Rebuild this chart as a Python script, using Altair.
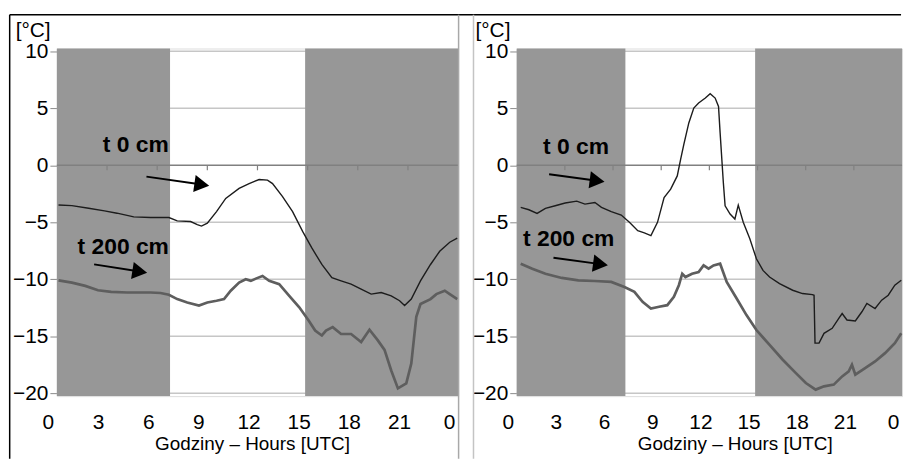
import altair as alt
import pandas as pd

FONT = "Liberation Sans"
Y_MIN, Y_MAX = -20.25, 10.25
HEIGHT = 350
LEFT_W, RIGHT_W = 404, 388

# ---------------- data: left panel ----------------
L_T0_H = [0.1, 0.9, 1.9, 2.85, 3.6, 4.6, 5.6, 6.7, 7.2, 8.0, 8.4, 8.65, 9.0, 9.55, 10.1, 10.9, 11.5, 12.1,
          12.6, 12.9, 13.5, 14.1, 14.7, 15.25, 15.85, 16.45, 17.0, 17.6, 18.2, 18.8, 19.4, 20.0, 20.5, 20.8,
          21.2, 21.75, 22.35, 22.9, 23.5, 23.95]
L_T0_V = [-3.48, -3.54, -3.77, -4.0, -4.2, -4.52, -4.58, -4.58, -4.87, -4.93, -5.2, -5.33, -5.07, -4.06, -2.9,
          -2.03, -1.6, -1.25, -1.3, -1.6, -2.75, -4.06, -5.8, -7.25, -8.7, -9.86, -10.14, -10.43, -10.87, -11.3,
          -11.16, -11.45, -11.88, -12.3, -11.74, -10.14, -8.7, -7.54, -6.75, -6.38]
L_T200_H = [0.1, 0.9, 1.7, 2.46, 3.25, 4.2, 5.6, 6.2, 6.7, 7.2, 7.8, 8.5, 9.0, 9.55, 10.0, 10.4, 10.9, 11.3,
            11.6, 11.9, 12.3, 12.7, 13.3, 13.9, 14.5, 15.05, 15.45, 15.85, 16.1, 16.5, 17.0, 17.6, 18.2, 18.7,
            19.2, 19.6, 20.0, 20.4, 20.9, 21.2, 21.5, 21.75, 22.35, 22.7, 23.2, 23.5, 23.95]
L_T200_V = [-10.09, -10.29, -10.58, -10.96, -11.1, -11.16, -11.16, -11.2, -11.36, -11.74, -12.03, -12.3, -12.03,
            -11.88, -11.74, -11.0, -10.29, -10.0, -10.14, -9.94, -9.71, -10.14, -10.43, -11.45, -12.46, -13.6,
            -14.5, -14.93, -14.5, -14.2, -14.8, -14.8, -15.5, -14.43, -15.36, -16.2, -18.0, -19.57, -19.13, -17.4,
            -13.3, -12.17, -11.74, -11.3, -11.0, -11.3, -11.74]

# ---------------- data: right panel ----------------
R_T0_H = [0.25, 0.76, 1.27, 1.79, 2.4, 3.02, 3.74, 4.25, 4.87, 5.28, 5.89, 6.51, 7.02, 7.54, 7.95, 8.36, 8.77,
          9.18, 9.59, 10.0, 10.21, 10.41, 10.72, 11.03, 11.33, 11.75, 12.05, 12.36, 12.57, 12.67, 12.87, 12.98,
          13.29, 13.59, 13.8, 14.11, 14.52, 14.93, 15.34, 15.75, 16.37, 17.19, 17.8, 18.42, 18.52, 18.58, 18.83,
          19.14, 19.65, 20.06, 20.27, 20.57, 21.09, 21.5, 21.81, 22.32, 22.73, 23.14, 23.55, 23.95]
R_T0_V = [-3.69, -3.9, -4.22, -3.78, -3.55, -3.31, -3.14, -3.4, -3.26, -3.69, -4.07, -4.36, -5.0, -5.73, -5.93,
          -6.16, -5.0, -2.82, -2.09, -0.93, 0.52, 1.83, 3.72, 5.03, 5.47, 5.9, 6.28, 5.9, 5.17, 2.85, -1.51, -3.55,
          -4.27, -4.71, -3.49, -5.0, -6.45, -8.2, -9.22, -9.8, -10.38, -10.96, -11.25, -11.34, -11.4, -15.6, -15.6,
          -14.74, -14.3, -13.43, -13.0, -13.57, -13.66, -12.85, -12.12, -12.56, -11.83, -11.4, -10.52, -10.09]
R_T200_H = [0.25, 0.97, 1.79, 2.81, 3.84, 4.87, 5.89, 6.71, 7.33, 7.84, 8.36, 8.87, 9.38, 9.79, 10.1, 10.31,
            10.51, 10.92, 11.33, 11.64, 11.95, 12.26, 12.67, 13.08, 13.7, 14.31, 14.93, 15.75, 16.57, 17.39, 18.01,
            18.62, 19.14, 19.75, 20.27, 20.68, 20.88, 21.09, 21.7, 22.32, 22.94, 23.55, 23.95]
R_T200_V = [-8.63, -9.07, -9.51, -9.88, -10.09, -10.15, -10.23, -10.67, -11.1, -11.98, -12.56, -12.41, -12.27,
            -11.54, -10.52, -9.51, -9.8, -9.51, -9.36, -8.78, -9.07, -8.78, -8.63, -10.23, -11.69, -13.14, -14.45,
            -15.76, -17.06, -18.23, -19.1, -19.68, -19.39, -19.24, -18.52, -18.08, -17.5, -18.37, -17.79, -17.21,
            -16.48, -15.61, -14.74]

SERIES = ["t 0 cm", "t 200 cm"]
NIGHT_START = [0, 14.85]
NIGHT_END = [6.77, 24]
Y_TICKS = [-20, -15, -10, -5, 0, 5, 10]
GRID_Y = [-20, -15, -10, -5, 5, 10]
X_TICKS = [0, 3, 6, 9, 12, 15, 18, 21, 24]
ZERO_TICKS = [3, 6, 9, 12, 15, 18, 21]
X_TITLE = "Godziny – Hours [UTC]"
Y_TITLE = "[°C]"

# annotation label / arrow anchors (hours, °C)
L_LAB_H, L_LAB_V = [4.72, 3.97], [1.19, -7.79]
L_AR_H, L_AR_V, L_AR_H2, L_AR_V2, L_AR_ANG = [5.36, 2.23], [-0.99, -8.69], [8.67, 4.96], [-1.69, -9.32], [8.2, 9.0]
R_LAB_H, R_LAB_V = [3.7, 3.24], [1.01, -7.09]
R_AR_H, R_AR_V, R_AR_H2, R_AR_V2, R_AR_ANG = [2.02, 2.29], [-0.79, -8.11], [5.01, 5.22], [-1.35, -8.67], [7.5, 7.7]

ONE = alt.Data(values=[{}])


def panel(t0h, t0v, t2h, t2v, lab_h, lab_v, ar_h, ar_v, ar_h2, ar_v2, ar_ang,
          width, title_x, frame_left, frame_right, left_border, divider_x):
    xs = alt.Scale(domain=[0, 24], nice=False, zero=False)
    ys = alt.Scale(domain=[Y_MIN, Y_MAX], nice=False, zero=False)

    grid = alt.Chart(pd.DataFrame({"g": GRID_Y})).mark_rule(color="#c6c6c6", strokeWidth=1.5).encode(
        y=alt.Y("g:Q", scale=ys, axis=alt.Axis(
            values=Y_TICKS, ticks=True, tickSize=7, tickColor="#8a8a8a", tickWidth=1,
            domain=False, grid=False, labelPadding=2, labelFontSize=21, labelFont=FONT,
            labelColor="black", labelFlush=False, labelOverlap=False, title=None)),
        x=alt.value(0), x2=alt.value(width))

    nights = alt.Chart(pd.DataFrame({"s": NIGHT_START, "e": NIGHT_END})).mark_rect(color="#979797").encode(
        x=alt.X("s:Q", scale=xs, axis=alt.Axis(
            values=X_TICKS, labelExpr="datum.value == 24 ? '0' : datum.label",
            labelFlush=False, labelOverlap=False, labelOffset=-9, ticks=False, tickSize=0,
            domain=False, grid=False, labelPadding=16, labelFontSize=21, labelFont=FONT,
            labelColor="black", title=X_TITLE, titleFont=FONT, titleFontSize=19,
            titleFontWeight="normal", titleColor="black", titleX=title_x, titleY=54,
            titleBaseline="alphabetic", titleAlign="center")),
        x2="e:Q",
        y=alt.datum(Y_MAX, scale=ys), y2=alt.datum(Y_MIN))

    zero = alt.Chart(ONE).mark_rule(color="#808080", strokeWidth=1.5).encode(
        y=alt.datum(0, scale=ys), x=alt.value(0), x2=alt.value(width))
    zticks = alt.Chart(pd.DataFrame({"t": ZERO_TICKS})).mark_rule(
        color="#808080", strokeWidth=1.2, y2Offset=5).encode(
        x=alt.X("t:Q", scale=xs), y=alt.datum(0, scale=ys), y2=alt.datum(0))

    df = pd.DataFrame({"h": t0h + t2h, "v": t0v + t2v,
                       "series": [SERIES[0]] * len(t0h) + [SERIES[1]] * len(t2h)})
    lines = alt.Chart(df).mark_line(interpolate="linear").encode(
        x=alt.X("h:Q", scale=xs),
        y=alt.Y("v:Q", scale=ys),
        color=alt.Color("series:N", scale=alt.Scale(domain=SERIES, range=["#1c1c1c", "#5e5e5e"]), legend=None),
        strokeWidth=alt.StrokeWidth("series:N", scale=alt.Scale(domain=SERIES, range=[1.4, 2.7]), legend=None))

    adf = pd.DataFrame({"h": ar_h, "v": ar_v, "h2": ar_h2, "v2": ar_v2, "ang": ar_ang,
                        "lh": lab_h, "lv": lab_v, "lab": SERIES})
    arrows = alt.Chart(adf).mark_rule(color="black", strokeWidth=2).encode(
        x=alt.X("h:Q", scale=xs), y=alt.Y("v:Q", scale=ys), x2="h2:Q", y2="v2:Q")
    heads = alt.Chart(adf).mark_point(shape="triangle-right", filled=True, color="black",
                                      opacity=1, size=300).encode(
        x=alt.X("h2:Q", scale=xs), y=alt.Y("v2:Q", scale=ys), angle=alt.Angle("ang:Q", scale=None))
    labels = alt.Chart(adf).mark_text(font=FONT, fontSize=23, fontWeight="bold", align="center",
                                      baseline="alphabetic", color="black").encode(
        x=alt.X("lh:Q", scale=xs), y=alt.Y("lv:Q", scale=ys), text="lab:N")

    unit = alt.Chart(ONE).mark_text(font=FONT, fontSize=21, align="left", baseline="alphabetic",
                                    color="black").encode(
        x=alt.value(-41.5), y=alt.value(-12), text=alt.value(Y_TITLE))

    top = alt.Chart(ONE).mark_rule(color="black", strokeWidth=1.5).encode(
        x=alt.value(frame_left), x2=alt.value(frame_right), y=alt.value(-34))
    layers = [grid, nights, zero, zticks, lines, arrows, heads, labels, unit, top]
    if left_border is not None:
        layers.append(alt.Chart(ONE).mark_rule(color="black", strokeWidth=1.5).encode(
            x=alt.value(left_border), y=alt.value(-34), y2=alt.value(413)))
    for dx, col in divider_x:
        layers.append(alt.Chart(ONE).mark_rule(color=col, strokeWidth=1.5).encode(
            x=alt.value(dx), y=alt.value(-34), y2=alt.value(413)))
    return alt.layer(*layers).properties(width=width, height=HEIGHT)


left = panel(L_T0_H, L_T0_V, L_T200_H, L_T200_V, L_LAB_H, L_LAB_V, L_AR_H, L_AR_V, L_AR_H2, L_AR_V2,
             L_AR_ANG, LEFT_W, 196.5, -47.5, 420, -47.5, [(404.5, "#a8a8a8")])
right = panel(R_T0_H, R_T0_V, R_T200_H, R_T200_V, R_LAB_H, R_LAB_V, R_AR_H, R_AR_V, R_AR_H2, R_AR_V2,
              R_AR_ANG, RIGHT_W, 219.5, -43.5, RIGHT_W - 1, None, [(-43.5, "#c4c4c4")])

chart = alt.hconcat(left, right, spacing=59, bounds="flush").properties(
    padding={"left": 8.25, "top": 11.25, "right": 0, "bottom": 0}
).configure_view(strokeWidth=0).configure(background="white")

chart.save("out.html", embed_options={"renderer": "svg", "actions": False})
